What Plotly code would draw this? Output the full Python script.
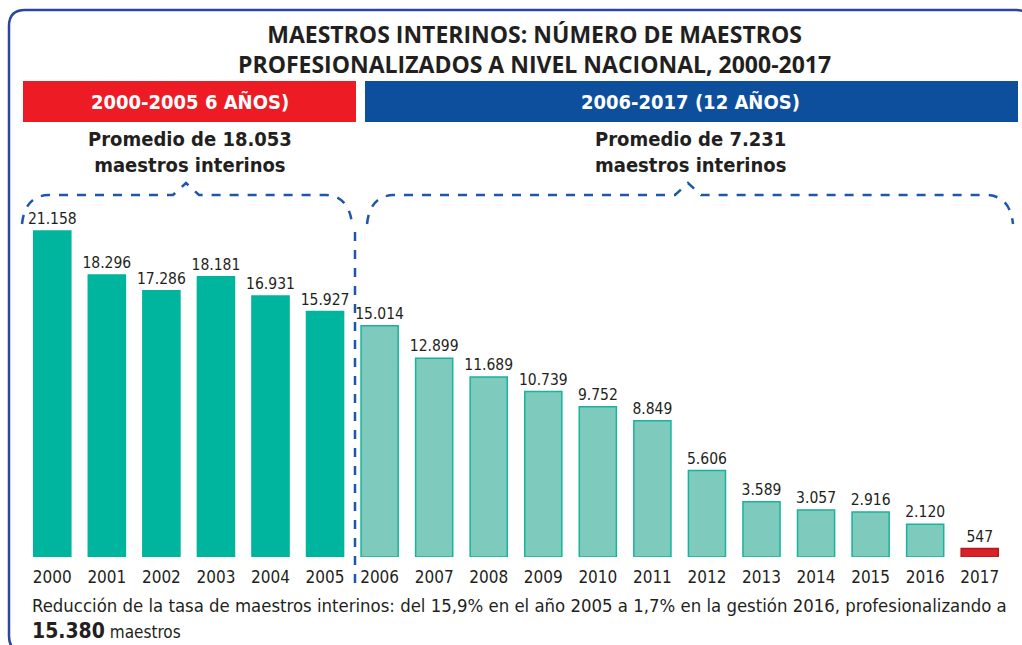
import plotly.graph_objects as go

# ---- data ----
years = ["2000", "2001", "2002", "2003", "2004", "2005", "2006", "2007", "2008",
         "2009", "2010", "2011", "2012", "2013", "2014", "2015", "2016", "2017"]
values = [21158, 18296, 17286, 18181, 16931, 15927, 15014, 12899, 11689,
          10739, 9752, 8849, 5606, 3589, 3057, 2916, 2120, 547]
period_labels = ["2000-2005 6 AÑOS)", "2006-2017 (12 AÑOS)"]
period_avgs = ["Promedio de 18.053<br>maestros interinos", "Promedio de 7.231<br>maestros interinos"]
title_lines = ["MAESTROS INTERINOS: NÚMERO DE MAESTROS",
               "PROFESIONALIZADOS A NIVEL NACIONAL, 2000-2017"]
footnote = ("Reducción de la tasa de maestros interinos: del 15,9% en el año 2005 a 1,7% "
            "en la gestión 2016, profesionalizando a")
footnote_num = "15.380"

W, H = 1022, 645
def px(x): return x / W
def py(y): return 1 - y / H

COND = "DejaVu Sans Condensed, Liberation Sans Narrow, Roboto Condensed, Arial Narrow, Roboto, sans-serif"
TXT = "#231F20"

fill, line = [], []
for i, yv in enumerate(years):
    if int(yv) <= 2005:
        fill.append("#00B59D"); line.append("#00B59D")
    elif i == len(years) - 1:
        fill.append("#DA2128"); line.append("#B01B22")
    else:
        fill.append("#7ECBBE"); line.append("#17B39B")

fig = go.Figure(go.Bar(
    x=years, y=values,
    marker=dict(color=fill, line=dict(color=line, width=1.5)),
    texttemplate="%{y:,}", textposition="outside", constraintext="none",
    textfont=dict(family=COND, size=15.5, color=TXT),
    cliponaxis=False, hoverinfo="skip",
))

fig.update_layout(
    width=W, height=H, margin=dict(l=0, r=0, t=0, b=0),
    paper_bgcolor="white", plot_bgcolor="white",
    separators=",.", showlegend=False, bargap=0.32,
    xaxis=dict(domain=[px(25), px(1007)], type="category", showline=False,
               showgrid=False, zeroline=False, ticks="", ticklabelstandoff=8,
               tickfont=dict(family=COND, size=17, color=TXT)),
    yaxis=dict(domain=[py(557), py(218)], range=[0, 22000], visible=False),
)

shapes = []
# outer rounded border
r = 16
x0, y0, x1, y1 = 9, 10, 1032, 652
path = (f"M {px(x0)},{py(y0+r)} Q {px(x0)},{py(y0)} {px(x0+r)},{py(y0)} "
        f"L {px(x1-r)},{py(y0)} Q {px(x1)},{py(y0)} {px(x1)},{py(y0+r)} "
        f"L {px(x1)},{py(y1-r)} Q {px(x1)},{py(y1)} {px(x1-r)},{py(y1)} "
        f"L {px(x0+r)},{py(y1)} Q {px(x0)},{py(y1)} {px(x0)},{py(y1-r)} Z")
shapes.append(dict(type="path", xref="paper", yref="paper", path=path,
                   line=dict(color="#2B45A0", width=2.5)))
# banners
shapes.append(dict(type="rect", xref="paper", yref="paper", x0=px(23), x1=px(356),
                   y0=py(122), y1=py(81), fillcolor="#ED1C24", line=dict(width=0)))
shapes.append(dict(type="rect", xref="paper", yref="paper", x0=px(365), x1=px(1018),
                   y0=py(122), y1=py(81), fillcolor="#0D4F9C", line=dict(width=0)))

def brace(xl, xr, xp):
    pts = (f"M {px(xl)},{py(224)} Q {px(xl+3)},{py(196)} {px(xl+26)},{py(195)} "
           f"L {px(xp-13)},{py(195)} L {px(xp)},{py(183)} L {px(xp+13)},{py(195)} "
           f"L {px(xr-26)},{py(195)} Q {px(xr-3)},{py(196)} {px(xr)},{py(224)}")
    return dict(type="path", xref="paper", yref="paper", path=pts,
                line=dict(color="#1F57A8", width=2.5, dash="dash"))
shapes.append(brace(22, 352, 186))
shapes.append(brace(367, 1013, 688))
shapes.append(dict(type="line", xref="paper", yref="paper", x0=px(355), x1=px(355),
                   y0=py(232), y1=py(592), line=dict(color="#1F57A8", width=2.5, dash="dash")))
fig.update_layout(shapes=shapes)

ann = []
ann.append(dict(x=px(534), y=py(49), text="<b>" + "<br>".join(title_lines) + "</b>",
                xref="paper", yref="paper", showarrow=False, xanchor="center", yanchor="middle",
                font=dict(family="Open Sans", size=23, color=TXT)))
for cx, lab, avg in [(190, period_labels[0], period_avgs[0]), (690, period_labels[1], period_avgs[1])]:
    ann.append(dict(x=px(cx), y=py(102), text="<b>" + lab + "</b>", xref="paper", yref="paper",
                    showarrow=False, xanchor="center", yanchor="middle",
                    font=dict(family=COND, size=20, color="white")))
    ann.append(dict(x=px(cx), y=py(152), text="<b>" + avg + "</b>", xref="paper", yref="paper",
                    showarrow=False, xanchor="center", yanchor="middle",
                    font=dict(family=COND, size=20, color=TXT)))
ann.append(dict(x=px(30), y=py(605), text=footnote, xref="paper", yref="paper",
                showarrow=False, xanchor="left", yanchor="middle",
                font=dict(family=COND, size=18.4, color=TXT)))
ann.append(dict(x=px(30), y=py(631), xref="paper", yref="paper",
                text=f"<span style='font-size:21px'><b>{footnote_num}</b></span> maestros",
                showarrow=False, xanchor="left", yanchor="middle",
                font=dict(family=COND, size=17, color=TXT)))
fig.update_layout(annotations=ann)

fig.write_html("out.html", config={"displayModeBar": False},
               post_script="document.body.style.margin='0';")
